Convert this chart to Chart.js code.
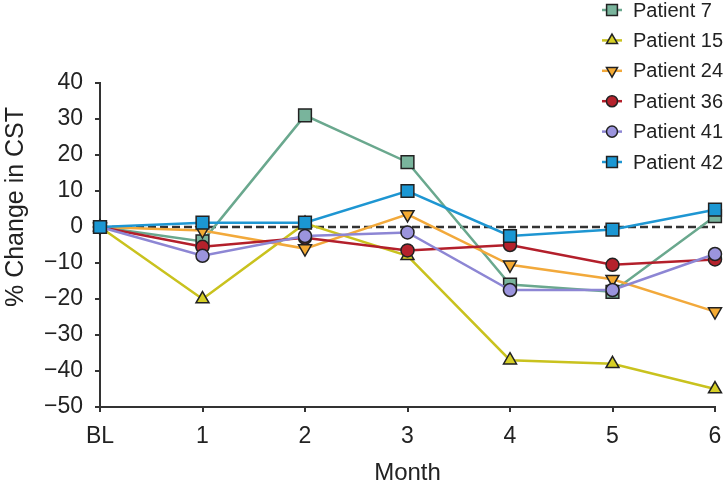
<!DOCTYPE html>
<html>
<head>
<meta charset="utf-8">
<script src="https://cdn.jsdelivr.net/npm/chart.js@4.4.0/dist/chart.umd.min.js"></script>
<style>
  body { margin: 0; background: #fff; }
  canvas { display: block; }
</style>
</head>
<body>
<canvas id="grafico" width="727" height="484"></canvas>
<script>
// dados
const meses = ['BL', '1', '2', '3', '4', '5', '6'];
const paciente7 = [0, -4, 31, 18, -16, -18, 3];
const paciente15 = [0, -20, 1, -8, -37, -38, -45];
const paciente24 = [0, -1, -6, 3.5, -10.5, -14.5, -23.5];
const paciente36 = [0, -5.5, -3, -6.5, -5, -10.5, -9];
const paciente41 = [0, -8, -2.5, -1.5, -17.5, -17.5, -7.5];
const paciente42 = [0, 1.2, 1.2, 10, -2.5, -0.7, 4.8];

const tituloX = 'Month';
const tituloY = '% Change in CST';

const fonte = "'Liberation Sans', Arial, sans-serif";

function serie(nome, dados, linha, preenchimento, estilo, raio, rotacao, ordem) {
    return {
        label: nome,
        data: dados,
        borderColor: linha,
        borderWidth: 2.5,
        backgroundColor: preenchimento,
        pointBackgroundColor: preenchimento,
        pointBorderColor: '#222',
        pointBorderWidth: 1.5,
        pointStyle: estilo,
        pointRadius: raio,
        pointRotation: rotacao,
        tension: 0,
        clip: false,
        order: ordem
    };
}

// linha tracejada no zero
const linhaZero = {
    id: 'linhaZero',
    beforeDatasetsDraw(chart) {
        const { ctx, chartArea, scales } = chart;
        const y = scales.y.getPixelForValue(0);
        ctx.save();
        ctx.strokeStyle = '#333';
        ctx.lineWidth = 2.5;
        ctx.setLineDash([8, 4]);
        ctx.beginPath();
        ctx.moveTo(chartArea.left, y);
        ctx.lineTo(chartArea.right, y);
        ctx.stroke();
        ctx.restore();
    }
};

// títulos dos eixos (o do eixo y fica um pouco acima do centro, como na figura)
const titulos = {
    id: 'titulos',
    afterDraw(chart) {
        const ctx = chart.ctx;
        const area = chart.chartArea;
        ctx.save();
        ctx.fillStyle = '#222';
        ctx.textAlign = 'center';
        ctx.textBaseline = 'middle';
        ctx.font = '24px ' + fonte;
        ctx.fillText(tituloX, (area.left + area.right) / 2, 473);
        ctx.font = '25px ' + fonte;
        ctx.translate(16, 207);
        ctx.rotate(-Math.PI / 2);
        ctx.fillText(tituloY, 0, 0);
        ctx.restore();
    }
};

// legenda desenhada à mão no canto superior direito
const legenda = {
    id: 'legenda',
    afterDraw(chart) {
        const ctx = chart.ctx;
        ctx.save();
        chart.data.datasets.forEach((ds, i) => {
            const y = 10 + i * 30.4;
            const x = 612;
            ctx.strokeStyle = ds.borderColor;
            ctx.lineWidth = 2.5;
            ctx.beginPath();
            ctx.moveTo(x - 10, y);
            ctx.lineTo(x + 10, y);
            ctx.stroke();
            ctx.fillStyle = ds.pointBackgroundColor;
            ctx.strokeStyle = '#222';
            ctx.lineWidth = 1.5;
            Chart.helpers.drawPoint(ctx, {
                pointStyle: ds.pointStyle,
                radius: ds.pointRadius * 0.85,
                rotation: ds.pointRotation,
                borderWidth: 1.5
            }, x, y);
            ctx.fillStyle = '#222';
            ctx.font = '20px ' + fonte;
            ctx.textBaseline = 'middle';
            ctx.textAlign = 'left';
            ctx.fillText(ds.label, 633, y + 1);
        });
        ctx.restore();
    }
};

new Chart(document.getElementById('grafico'), {
    type: 'line',
    data: {
        labels: meses,
        datasets: [
            serie('Patient 7', paciente7, '#6aa88e', '#79b49c', 'rect', 9, 0, 5),
            serie('Patient 15', paciente15, '#c9c21e', '#d6cf26', 'triangle', 7.5, 0, 4),
            serie('Patient 24', paciente24, '#f2a93b', '#f4aa33', 'triangle', 7.5, 180, 3),
            serie('Patient 36', paciente36, '#b31f2b', '#b5222c', 'circle', 6.5, 0, 2),
            serie('Patient 41', paciente41, '#8d86d4', '#9b94dd', 'circle', 6.5, 0, 1),
            serie('Patient 42', paciente42, '#1e96d2', '#1b97d3', 'rect', 9, 0, 0)
        ]
    },
    options: {
        responsive: false,
        animation: false,
        layout: { padding: { top: 83, right: 12, left: 0, bottom: 0 } },
        plugins: {
            legend: { display: false },
            tooltip: { enabled: false }
        },
        scales: {
            x: {
                type: 'category',
                offset: false,
                afterFit(scale) {
                    scale.height = 77;
                    scale.paddingLeft = 0;
                    scale.paddingRight = 0;
                },
                grid: { drawOnChartArea: false, drawTicks: true, tickLength: 5, color: '#333', lineWidth: 2 },
                border: { display: true, color: '#333', width: 2 },
                ticks: { color: '#222', font: { family: fonte, size: 23 }, padding: 11, maxRotation: 0 }
            },
            y: {
                min: -50,
                max: 40,
                afterFit(scale) {
                    scale.width = 100;
                    scale.paddingTop = 0;
                    scale.paddingBottom = 0;
                },
                grid: { drawOnChartArea: false, drawTicks: true, tickLength: 5, color: '#333', lineWidth: 2 },
                border: { display: true, color: '#333', width: 2 },
                ticks: {
                    stepSize: 10,
                    color: '#222',
                    padding: 12,
                    font: { family: fonte, size: 23 },
                    callback: v => String(v).replace('-', '\u2212')
                }
            }
        }
    },
    plugins: [linhaZero, titulos, legenda]
});
</script>
</body>
</html>
